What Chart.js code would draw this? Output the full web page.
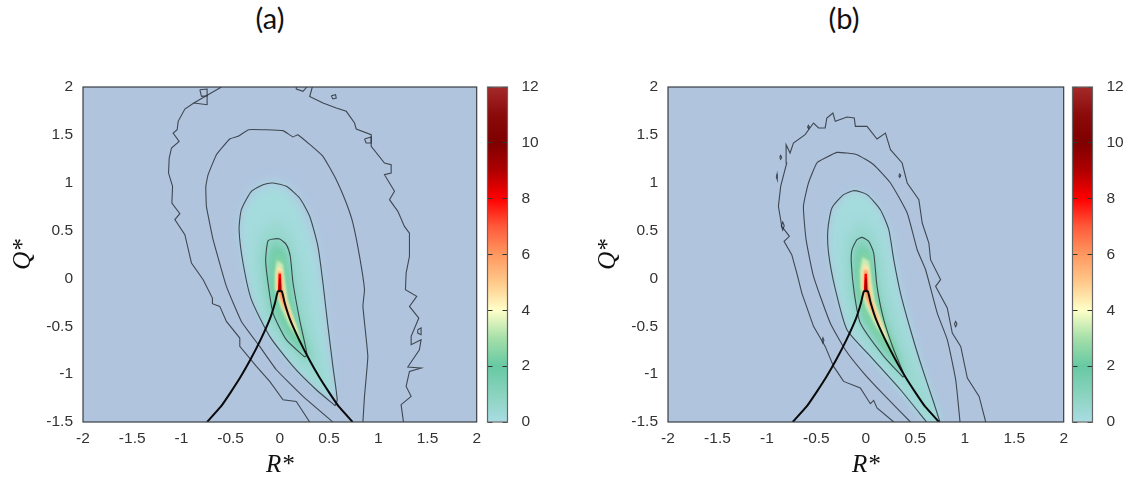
<!DOCTYPE html>
<html>
<head>
<meta charset="utf-8">
<script src="https://cdn.jsdelivr.net/npm/chart.js@4"></script>
<style>
  html, body { margin: 0; padding: 0; background: #fff; }
  body { position: relative; width: 1132px; height: 478px; overflow: hidden; }
  .box { position: absolute; top: 0; height: 478px; }
  .panel-title { position: absolute; top: 0; width: 80px; text-align: center; font: 29px Lato, sans-serif; color: #111; }
</style>
</head>
<body>
<div class="panel-title" style="left:230px">(a)</div>
<div class="panel-title" style="left:804px">(b)</div>
<div class="box" style="left:0;width:488px"><canvas id="plotA"></canvas></div>
<div class="box" style="left:585px;width:490px"><canvas id="plotB"></canvas></div>
<div class="box" style="left:486px;width:60px"><canvas id="barA"></canvas></div>
<div class="box" style="left:1071px;width:60px"><canvas id="barB"></canvas></div>
<script>
const xTicks = [-2, -1.5, -1, -0.5, 0, 0.5, 1, 1.5, 2];
const yTicks = [-1.5, -1, -0.5, 0, 0.5, 1, 1.5, 2];
const barTicks = [0, 2, 4, 6, 8, 10, 12];

// colour bar: level, colour
const paletteLevels = [-0.3, 0, 1, 2, 3, 4, 5, 6, 7, 8, 9, 10, 11, 12];
const paletteColors = ['#b0c4de', '#a9dce3', '#8ad3be', '#66c9a3', '#a5dfa9', '#ffffc8', '#ffc98a', '#ff9860',
  '#ff5a3a', '#ff0000', '#b00000', '#7f0000', '#8b0a0a', '#a52a2a'];

// restricted Euler line, same in both panels
const curve = [[-0.74,-1.5],[-0.6,-1.34],[-0.5,-1.19],[-0.4,-1.03],[-0.3,-0.85],[-0.2,-0.65],[-0.1,-0.42],[-0.05,-0.26],
  [-0.02,-0.135],[0.02,-0.135],[0.05,-0.26],[0.1,-0.42],[0.2,-0.65],[0.3,-0.85],[0.4,-1.03],[0.5,-1.19],[0.6,-1.34],[0.74,-1.5]];

// panel (a) contours, R*, Q*
const a1Left = [[-0.593,2],[-0.712,1.93],[-0.874,1.833],[-0.965,1.77],[-1.033,1.641],[-1.043,1.554],[-1.084,1.519],[-1.023,1.432],
  [-1.101,1.363],[-1.124,1.258],[-1.131,1.101],[-1.09,0.962],[-1.097,0.788],[-1.016,0.676],[-1.067,0.614],[-0.965,0.457],
  [-0.898,0.161],[-0.779,-0.013],[-0.685,-0.205],[-0.685,-0.264],[-0.61,-0.292],[-0.543,-0.449],[-0.407,-0.623],[-0.407,-0.71],
  [-0.238,-0.919],[-0.103,-1.076],[0.032,-1.267],[0.167,-1.285],[0.303,-1.5]];
const a1Right = [[0.33,2],[0.303,1.9],[0.438,1.833],[0.573,1.781],[0.675,1.746],[0.759,1.624],[0.776,1.561],[0.928,1.502],[0.928,1.38],
  [1.063,1.206],[1.131,1.188],[1.131,1.101],[1.063,1.084],[1.165,0.91],[1.114,0.823],[1.199,0.701],[1.266,0.544],[1.317,0.474],
  [1.317,0.231],[1.283,0.056],[1.276,-0.118],[1.391,-0.187],[1.317,-0.292],[1.412,-0.414],[1.334,-0.605],[1.334,-0.692],[1.435,-0.64],
  [1.418,-0.745],[1.3,-0.926],[1.435,-0.936],[1.317,-0.971],[1.283,-1.128],[1.334,-1.232],[1.232,-1.319],[1.256,-1.5]];
const a1Top = [[0.167,2],[0.167,1.979],[0.235,1.955],[0.275,2]];
const a1Box = [[-0.813,1.972],[-0.739,1.979],[-0.739,1.909],[-0.796,1.902],[-0.813,1.972]];
const a1Box2 = [[-0.874,1.833],[-0.739,1.815],[-0.739,1.909]];
const a1Isle1 = [[0.86,1.457],[0.928,1.478],[0.928,1.415],[0.877,1.415],[0.86,1.457]];
const a1Isle2 = [[1.401,-0.536],[1.435,-0.518],[1.435,-0.588],[1.401,-0.571],[1.401,-0.536]];
const a1Isle3 = [[0.522,1.909],[0.566,1.92],[0.573,1.885],[0.539,1.875],[0.522,1.909]];
const a2 = [[0.539,-1.5],[0.235,-1.232],[-0.036,-0.954],[-0.205,-0.71],[-0.391,-0.449],[-0.543,-0.083],[-0.678,0.405],[-0.746,0.753],
  [-0.752,0.962],[-0.729,1.084],[-0.644,1.293],[-0.509,1.457],[-0.424,1.485],[-0.316,1.554],[0.032,1.544],[0.134,1.478],[0.184,1.502],
  [0.438,1.276],[0.573,1.032],[0.675,0.788],[0.742,0.579],[0.81,0.231],[0.86,-0.118],[0.844,-0.292],[0.894,-0.814],[0.86,-1.232],[0.844,-1.5]];
const a3 = [[0.563,-1.33],[0.37,-1.163],[0.134,-0.919],[-0.103,-0.605],[-0.289,-0.222],[-0.374,0.161],[-0.414,0.509],[-0.391,0.718],
  [-0.289,0.91],[-0.171,0.979],[-0.069,0.997],[0.066,0.962],[0.201,0.84],[0.303,0.649],[0.387,0.335],[0.438,-0.048],[0.489,-0.501],
  [0.539,-0.919],[0.583,-1.267],[0.563,-1.33]];
const a4 = [[0.252,-0.821],[0.066,-0.64],[-0.069,-0.362],[-0.12,-0.048],[-0.144,0.196],[-0.12,0.394],[-0.063,0.412],[-0.002,0.412],
  [0.066,0.353],[0.106,0.231],[0.134,-0.048],[0.201,-0.431],[0.276,-0.797],[0.252,-0.821]];

// panel (a) colour bands, lowest level first
const aLevels = [-0.15, 0.15, 0.5, 1.1, 1.7, 2.4, 3.4, 4.5, 6, 8, 10];
const aBands = [
  [[-0.44,0.5],[-0.4,0.75],[-0.29,0.96],[-0.07,1.06],[0.09,1],[0.24,0.8],[0.36,0.55],[0.42,0.2],[0.48,-0.3],[0.56,-1.2],[0.4,-1.14],[0.1,-0.85],[-0.13,-0.55],[-0.31,-0.15],[-0.4,0.2]],
  [[-0.38,0.5],[-0.35,0.7],[-0.25,0.88],[-0.07,0.95],[0.06,0.9],[0.18,0.75],[0.28,0.5],[0.36,0.2],[0.42,-0.2],[0.47,-0.7],[0.56,-1.27],[0.36,-1.12],[0.12,-0.89],[-0.09,-0.59],[-0.27,-0.2],[-0.35,0.15]],
  [[-0.25,0.2],[-0.21,0.47],[-0.05,0.63],[0.09,0.52],[0.19,0.25],[0.26,-0.1],[0.33,-0.45],[0.45,-0.95],[0.5,-1.2],[0.3,-1.02],[0.05,-0.74],[-0.16,-0.42],[-0.23,-0.1]],
  [[-0.16,0.2],[-0.12,0.38],[-0.03,0.43],[0.06,0.34],[0.11,0.15],[0.14,-0.1],[0.21,-0.45],[0.34,-0.85],[0.26,-0.85],[0.05,-0.62],[-0.09,-0.36],[-0.14,-0.05]],
  [[-0.06,0.35],[0.04,0.3],[0.085,0.09],[0.105,-0.153],[0.155,-0.396],[0.28,-0.8],[0.09,-0.6],[-0.06,-0.327],[-0.105,-0.083],[-0.11,0.126]],
  [[-0.04,0.27],[0.04,0.22],[0.065,-0.02],[0.09,-0.2],[0.13,-0.38],[0.26,-0.74],[0.1,-0.54],[-0.015,-0.32],[-0.065,-0.083],[-0.07,0.09]],
  [[-0.03,0.19],[0.03,0.15],[0.055,-0.05],[0.08,-0.22],[0.22,-0.66],[0.1,-0.5],[0.01,-0.3],[-0.05,-0.1],[-0.05,0.05]],
  [[-0.024,0.13],[0.022,0.1],[0.04,-0.08],[0.07,-0.25],[0.2,-0.6],[0.09,-0.42],[0.01,-0.25],[-0.035,-0.1],[-0.035,0.03]],
  [[-0.018,0.075],[0.016,0.065],[0.028,-0.1],[0.055,-0.24],[0.14,-0.5],[0.05,-0.32],[0,-0.2],[-0.022,-0.1]],
  [[-0.013,0.05],[0.011,0.05],[0.02,-0.135],[-0.02,-0.135]],
  [[-0.008,0],[0.006,0],[0.012,-0.135],[-0.012,-0.135]]
];

// panel (b) contours
const b1 = [[0.282,-1.5],[0.113,-1.354],[0.079,-1.274],[0.046,-1.309],[-0.056,-1.145],[-0.225,-1.076],[-0.326,-0.919],[-0.411,-0.71],
  [-0.529,-0.501],[-0.647,-0.153],[-0.698,0.056],[-0.749,0.248],[-0.827,0.387],[-0.773,0.44],[-0.85,0.544],[-0.884,0.753],[-0.861,0.962],
  [-0.8,1.206],[-0.806,1.397],[-0.766,1.31],[-0.732,1.415],[-0.614,1.502],[-0.529,1.624],[-0.478,1.572],[-0.411,1.572],[-0.394,1.676],
  [-0.333,1.728],[-0.309,1.641],[-0.191,1.687],[-0.117,1.676],[-0.106,1.589],[0.012,1.589],[0.113,1.457],[0.198,1.519],[0.249,1.345],
  [0.367,1.206],[0.418,0.997],[0.536,0.823],[0.57,0.579],[0.637,0.37],[0.654,0.196],[0.756,-0.013],[0.705,-0.083],[0.823,-0.309],
  [0.874,-0.571],[0.959,-0.71],[1.026,-1.041],[1.145,-1.232],[1.212,-1.5]];
const bIsle1 = [[-0.871,1.265],[-0.861,1.285],[-0.851,1.265],[-0.861,1.245],[-0.871,1.265]];
const bIsle2 = [[-0.905,1.06],[-0.898,1.09],[-0.891,1.06],[-0.898,1.03],[-0.905,1.06]];
const bIsle3 = [[-0.59,1.582],[-0.58,1.6],[-0.57,1.582],[-0.58,1.565],[-0.59,1.582]];
const bIsle4 = [[0.333,1.074],[0.343,1.09],[0.353,1.074],[0.343,1.055],[0.333,1.074]];
const bIsle5 = [[-0.444,-0.647],[-0.434,-0.62],[-0.424,-0.647],[-0.434,-0.675],[-0.444,-0.647]];
const bIsle6 = [[0.895,-0.476],[0.908,-0.45],[0.921,-0.476],[0.908,-0.505],[0.895,-0.476]];
const bIsle7 = [[-0.855,0.551],[-0.84,0.59],[-0.825,0.551],[-0.84,0.505],[-0.855,0.551]];
const b2 = [[0.451,-1.5],[0.181,-1.215],[-0.022,-0.989],[-0.208,-0.745],[-0.36,-0.466],[-0.529,0.022],[-0.604,0.405],[-0.631,0.753],
  [-0.58,0.997],[-0.495,1.206],[-0.411,1.258],[-0.292,1.317],[-0.09,1.293],[0.079,1.188],[0.249,0.997],[0.418,0.683],[0.519,0.3],
  [0.604,0.091],[0.722,-0.362],[0.823,-0.64],[0.908,-1.058],[0.952,-1.5]];
const b3 = [[0.614,-1.5],[0.35,-1.163],[0.046,-0.814],[-0.191,-0.536],[-0.309,-0.111],[-0.377,0.265],[-0.384,0.509],[-0.343,0.736],
  [-0.225,0.875],[-0.117,0.917],[0.012,0.875],[0.147,0.718],[0.232,0.509],[0.282,0.196],[0.35,-0.153],[0.451,-0.536],[0.553,-0.884],
  [0.688,-1.302],[0.749,-1.5]];
const b4 = [[0.374,-1.03],[0.181,-0.814],[-0.056,-0.466],[-0.117,-0.153],[-0.147,0.161],[-0.14,0.3],[-0.09,0.405],[-0.039,0.429],
  [0.029,0.387],[0.079,0.265],[0.113,-0.083],[0.181,-0.431],[0.282,-0.745],[0.39,-1.016],[0.374,-1.03]];

// panel (b) colour bands
const bLevels = [-0.15, 0.15, 0.5, 1.1, 1.7, 2.4, 3.4, 4.5, 6, 8, 10];
const bBands = [
  [[-0.39,0.5],[-0.35,0.7],[-0.22,0.88],[-0.1,0.94],[0.03,0.89],[0.16,0.72],[0.26,0.5],[0.31,0.2],[0.38,-0.15],[0.48,-0.55],[0.58,-0.9],[0.78,-1.5],[0.6,-1.5],[0.32,-1.16],[0.02,-0.82],[-0.2,-0.54],[-0.32,-0.12],[-0.38,0.25]],
  [[-0.35,0.5],[-0.32,0.7],[-0.21,0.85],[-0.11,0.9],[0.01,0.85],[0.13,0.7],[0.21,0.5],[0.27,0.2],[0.33,-0.15],[0.44,-0.55],[0.54,-0.9],[0.74,-1.5],[0.63,-1.5],[0.35,-1.15],[0.06,-0.81],[-0.17,-0.53],[-0.29,-0.12],[-0.35,0.25]],
  [[-0.22,0.2],[-0.19,0.47],[-0.05,0.62],[0.09,0.5],[0.17,0.22],[0.22,-0.1],[0.33,-0.45],[0.48,-0.85],[0.73,-1.5],[0.66,-1.5],[0.28,-1],[0.02,-0.7],[-0.16,-0.42],[-0.21,-0.1]],
  [[-0.145,0.2],[-0.11,0.39],[-0.04,0.43],[0.04,0.36],[0.09,0.2],[0.12,-0.1],[0.19,-0.42],[0.3,-0.74],[0.41,-1.03],[0.3,-0.92],[0.12,-0.7],[-0.04,-0.44],[-0.11,-0.15]],
  [[-0.08,0.33],[0.02,0.3],[0.06,0.05],[0.1,-0.2],[0.17,-0.43],[0.37,-0.98],[0.18,-0.72],[-0.01,-0.42],[-0.09,-0.15],[-0.1,0.1]],
  [[-0.05,0.3],[0.04,0.26],[0.07,0.03],[0.11,-0.2],[0.18,-0.43],[0.37,-0.95],[0.18,-0.7],[-0.015,-0.4],[-0.085,-0.15],[-0.09,0.1]],
  [[-0.035,0.22],[0.035,0.18],[0.06,-0.02],[0.09,-0.23],[0.25,-0.7],[0.1,-0.5],[0,-0.3],[-0.055,-0.1],[-0.06,0.08]],
  [[-0.025,0.15],[0.028,0.12],[0.045,-0.05],[0.075,-0.25],[0.23,-0.66],[0.1,-0.44],[0.01,-0.25],[-0.04,-0.1],[-0.04,0.03]],
  [[-0.018,0.09],[0.018,0.08],[0.03,-0.1],[0.06,-0.24],[0.15,-0.52],[0.05,-0.32],[0,-0.2],[-0.024,-0.1]],
  [[-0.013,0.05],[0.011,0.05],[0.02,-0.135],[-0.02,-0.135]],
  [[-0.008,0],[0.006,0],[0.012,-0.135],[-0.012,-0.135]]
];

// softness of each band edge, in the same order as the levels
const bandBlur = [5, 3, 5, 4, 3, 2, 1.2, 1, 0.8, 0.6, 0.4];

function pts(list) {
  return list.map(function(p) { return {x: p[0], y: p[1]}; });
}

function mix(c1, c2, t) {
  const a = parseInt(c1.slice(1), 16), b = parseInt(c2.slice(1), 16);
  const ch = function(s) { return Math.round(((a >> s) & 255) * (1 - t) + ((b >> s) & 255) * t); };
  return 'rgb(' + ch(16) + ',' + ch(8) + ',' + ch(0) + ')';
}

function colorAt(level) {
  for (let i = 1; i < paletteLevels.length; i++) {
    if (level <= paletteLevels[i]) {
      const t = (level - paletteLevels[i - 1]) / (paletteLevels[i] - paletteLevels[i - 1]);
      return mix(paletteColors[i - 1], paletteColors[i], t);
    }
  }
  return paletteColors[paletteColors.length - 1];
}

function band(list, level, blur) {
  return {data: pts(list), showLine: true, fill: 'shape', backgroundColor: colorAt(level), borderWidth: 0, pointRadius: 0, blur: blur};
}

function contour(list, tension) {
  return {data: pts(list), showLine: true, fill: false, borderColor: 'rgba(35,40,45,0.8)', borderWidth: 1.1, pointRadius: 0, tension: tension || 0};
}

function blurOf(chart, index) {
  const ds = chart.data.datasets[index];
  return ds && ds.blur ? 'blur(' + ds.blur + 'px)' : 'none';
}

// background, per band blur (filler paints just before this hook runs), frame on top
const framePlugin = {
  id: 'frame',
  beforeDraw(chart) {
    const a = chart.chartArea, ctx = chart.ctx;
    ctx.fillStyle = '#b0c4de';
    ctx.fillRect(a.left, a.top, a.width, a.height);
  },
  beforeDatasetsDraw(chart) {
    chart.ctx.filter = blurOf(chart, chart.data.datasets.length - 1);
  },
  beforeDatasetDraw(chart, args) {
    chart.ctx.filter = blurOf(chart, args.index - 1);
  },
  afterDatasetsDraw(chart) {
    chart.ctx.filter = 'none';
  },
  afterDraw(chart) {
    const a = chart.chartArea, ctx = chart.ctx;
    ctx.strokeStyle = '#3a3f44';
    ctx.lineWidth = 1.2;
    ctx.strokeRect(a.left, a.top, a.width, a.height);
  }
};

function drawPlot(id, lines, bands, levels) {
  const sets = [{data: pts(curve), showLine: true, fill: false, borderColor: '#0a0a0a', borderWidth: 2, pointRadius: 0, tension: 0.12}];
  lines.forEach(function(l) { sets.push(contour(l[0], l[1])); });
  // filler paints the last dataset first, so highest level goes first here
  for (let i = bands.length - 1; i >= 0; i--) {
    sets.push(band(bands[i], levels[i], bandBlur[i]));
  }
  const tickFont = {family: '"Liberation Sans", sans-serif', size: 15.5};
  const titleFont = {family: '"Liberation Serif", serif', size: 25, style: 'italic'};
  return new Chart(document.getElementById(id), {
    type: 'scatter',
    data: {datasets: sets},
    plugins: [framePlugin],
    options: {
      responsive: true,
      maintainAspectRatio: false,
      animation: false,
      layout: {padding: {top: 87, right: 5}},
      plugins: {legend: {display: false}, tooltip: {enabled: false}},
      scales: {
        x: {
          min: -2, max: 2,
          afterFit: function(s) { s.height = 56; },
          afterBuildTicks: function(s) { s.ticks = xTicks.map(function(v) { return {value: v}; }); },
          grid: {display: false, drawTicks: false, z: 1},
          border: {display: false, z: 1},
          ticks: {color: '#333', font: tickFont, padding: 7, z: 1, maxRotation: 0, autoSkip: false, callback: function(v) { return String(v); }},
          title: {display: true, text: 'R*', color: '#111', font: titleFont, padding: {top: 2, bottom: -2}}
        },
        y: {
          min: -1.5, max: 2,
          afterFit: function(s) { s.width = 83; },
          afterBuildTicks: function(s) { s.ticks = yTicks.map(function(v) { return {value: v}; }); },
          grid: {display: false, drawTicks: false, z: 1},
          border: {display: false, z: 1},
          ticks: {color: '#333', font: tickFont, padding: 10, z: 1, autoSkip: false, callback: function(v) { return String(v); }},
          title: {display: true, text: 'Q*', color: '#111', font: titleFont, padding: {top: 8, bottom: 0}}
        }
      }
    }
  });
}

function drawBar(id) {
  return new Chart(document.getElementById(id), {
    type: 'bar',
    data: {
      labels: [''],
      datasets: [{
        data: [[0, 12]],
        barPercentage: 1,
        categoryPercentage: 1,
        borderWidth: 0,
        backgroundColor: function(ctx) {
          const a = ctx.chart.chartArea;
          if (!a) return '#fff';
          const g = ctx.chart.ctx.createLinearGradient(0, a.bottom, 0, a.top);
          paletteLevels.forEach(function(lv, i) {
            if (lv >= 0) g.addColorStop(lv / 12, paletteColors[i]);
          });
          return g;
        }
      }]
    },
    plugins: [{
      id: 'barFrame',
      afterDraw(chart) {
        const a = chart.chartArea, ctx = chart.ctx;
        ctx.strokeStyle = '#666';
        ctx.lineWidth = 1.2;
        ctx.strokeRect(a.left, a.top, a.width, a.height);
      }
    }],
    options: {
      responsive: true,
      maintainAspectRatio: false,
      animation: false,
      layout: {padding: {top: 87, bottom: 56, left: 1.5}},
      plugins: {legend: {display: false}, tooltip: {enabled: false}},
      scales: {
        x: {display: false},
        y: {
          position: 'right',
          min: 0, max: 12,
          afterFit: function(s) { s.width = 38.5; },
          afterBuildTicks: function(s) { s.ticks = barTicks.map(function(v) { return {value: v}; }); },
          grid: {color: '#333', z: 1, drawTicks: false},
          border: {display: false, dash: [5, 10, 5]},
          ticks: {color: '#333', font: {family: '"Liberation Sans", sans-serif', size: 15.5}, padding: 14}
        }
      }
    }
  });
}

const linesA = [[a1Left], [a1Right], [a1Top], [a1Box], [a1Box2], [a1Isle1], [a1Isle2], [a1Isle3], [a2, 0.1], [a3, 0.2], [a4, 0.2]];
const linesB = [[b1], [bIsle1], [bIsle2], [bIsle3], [bIsle4], [bIsle5], [bIsle6], [bIsle7], [b2, 0.15], [b3, 0.2], [b4, 0.2]];

drawPlot('plotA', linesA, aBands, aLevels);
drawBar('barA');
drawPlot('plotB', linesB, bBands, bLevels);
drawBar('barB');
</script>
</body>
</html>
